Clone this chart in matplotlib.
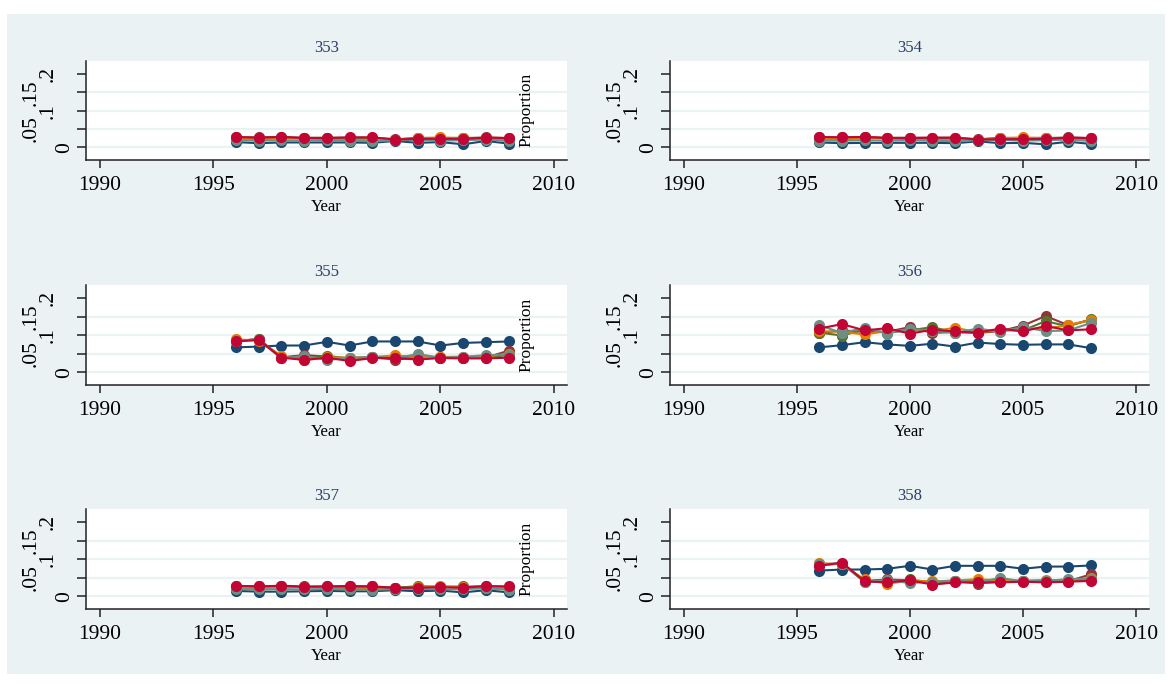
import matplotlib
matplotlib.use("Agg")
import matplotlib.pyplot as plt
from matplotlib.patches import Rectangle

# ---- data -------------------------------------------------------------
years = list(range(1996, 2009))
panel_ids = ["353", "354", "355", "356", "357", "358"]
series_colors = ["#1a476f", "#90353b", "#55752f", "#e37e00", "#6e8e84", "#c10534"]

x_ticks = [1990, 1995, 2000, 2005, 2010]
x_tick_labels = ["1990", "1995", "2000", "2005", "2010"]
y_ticks = [0, 0.05, 0.1, 0.15, 0.2]
y_tick_labels = ["0", ".05", ".1", ".15", ".2"]
y_grid = [0, 0.05, 0.1, 0.15]

# one list per series: navy, maroon, green, orange, teal, cranberry
p353 = [
    [0.014, 0.011, 0.013, 0.013, 0.013, 0.013, 0.012, 0.017, 0.012, 0.014, 0.008, 0.017, 0.010],
    [0.027, 0.027, 0.028, 0.026, 0.026, 0.026, 0.026, 0.022, 0.024, 0.024, 0.024, 0.027, 0.025],
    [0.024, 0.025, 0.026, 0.024, 0.025, 0.023, 0.022, 0.021, 0.026, 0.025, 0.026, 0.025, 0.023],
    [0.023, 0.022, 0.024, 0.025, 0.022, 0.020, 0.021, 0.020, 0.024, 0.027, 0.024, 0.023, 0.022],
    [0.019, 0.018, 0.019, 0.018, 0.019, 0.018, 0.016, 0.019, 0.020, 0.018, 0.019, 0.021, 0.017],
    [0.028, 0.026, 0.028, 0.025, 0.025, 0.027, 0.027, 0.021, 0.023, 0.023, 0.023, 0.026, 0.025],
]
p354 = [
    [0.013, 0.011, 0.012, 0.012, 0.012, 0.012, 0.011, 0.016, 0.011, 0.012, 0.008, 0.015, 0.009],
    [0.027, 0.027, 0.028, 0.026, 0.026, 0.026, 0.026, 0.022, 0.024, 0.025, 0.024, 0.027, 0.025],
    [0.024, 0.025, 0.027, 0.024, 0.025, 0.023, 0.022, 0.021, 0.026, 0.025, 0.026, 0.025, 0.023],
    [0.023, 0.022, 0.024, 0.025, 0.022, 0.019, 0.021, 0.020, 0.024, 0.027, 0.024, 0.023, 0.022],
    [0.018, 0.018, 0.019, 0.018, 0.019, 0.018, 0.016, 0.019, 0.020, 0.018, 0.019, 0.021, 0.017],
    [0.028, 0.027, 0.028, 0.025, 0.025, 0.026, 0.026, 0.021, 0.022, 0.022, 0.023, 0.026, 0.025],
]
p355 = [
    [0.067, 0.069, 0.072, 0.072, 0.082, 0.072, 0.083, 0.083, 0.083, 0.072, 0.079, 0.081, 0.083],
    [0.083, 0.090, 0.040, 0.046, 0.042, 0.036, 0.040, 0.034, 0.039, 0.040, 0.039, 0.039, 0.058],
    [0.085, 0.089, 0.038, 0.039, 0.044, 0.037, 0.041, 0.039, 0.043, 0.039, 0.039, 0.040, 0.046],
    [0.089, 0.085, 0.044, 0.032, 0.040, 0.039, 0.041, 0.045, 0.041, 0.041, 0.042, 0.042, 0.050],
    [0.085, 0.088, 0.037, 0.044, 0.033, 0.038, 0.042, 0.037, 0.049, 0.039, 0.041, 0.046, 0.047],
    [0.083, 0.087, 0.039, 0.033, 0.039, 0.030, 0.038, 0.038, 0.034, 0.038, 0.037, 0.037, 0.039],
]
p356 = [
    [0.067, 0.073, 0.081, 0.075, 0.071, 0.077, 0.069, 0.080, 0.076, 0.074, 0.075, 0.075, 0.065],
    [0.106, 0.113, 0.109, 0.109, 0.122, 0.106, 0.109, 0.106, 0.111, 0.126, 0.152, 0.127, 0.141],
    [0.107, 0.099, 0.115, 0.107, 0.113, 0.122, 0.107, 0.109, 0.113, 0.113, 0.138, 0.124, 0.143],
    [0.111, 0.109, 0.102, 0.111, 0.113, 0.111, 0.120, 0.108, 0.113, 0.118, 0.118, 0.127, 0.141],
    [0.127, 0.106, 0.120, 0.104, 0.118, 0.111, 0.106, 0.118, 0.109, 0.122, 0.111, 0.113, 0.133],
    [0.118, 0.130, 0.113, 0.119, 0.104, 0.115, 0.110, 0.107, 0.118, 0.110, 0.125, 0.113, 0.116],
]
p357 = [
    [0.014, 0.012, 0.012, 0.013, 0.014, 0.013, 0.013, 0.016, 0.013, 0.015, 0.010, 0.016, 0.010],
    [0.027, 0.026, 0.028, 0.026, 0.026, 0.027, 0.026, 0.023, 0.024, 0.025, 0.024, 0.027, 0.025],
    [0.024, 0.025, 0.026, 0.024, 0.025, 0.023, 0.022, 0.022, 0.027, 0.025, 0.026, 0.025, 0.023],
    [0.023, 0.022, 0.024, 0.025, 0.022, 0.020, 0.021, 0.020, 0.024, 0.027, 0.024, 0.023, 0.022],
    [0.019, 0.018, 0.019, 0.018, 0.019, 0.018, 0.017, 0.019, 0.020, 0.018, 0.019, 0.021, 0.017],
    [0.028, 0.026, 0.028, 0.025, 0.026, 0.027, 0.026, 0.022, 0.023, 0.024, 0.023, 0.027, 0.026],
]
p358 = [
    [0.069, 0.072, 0.072, 0.074, 0.082, 0.072, 0.082, 0.082, 0.082, 0.074, 0.080, 0.080, 0.083],
    [0.084, 0.088, 0.041, 0.045, 0.043, 0.035, 0.041, 0.034, 0.040, 0.041, 0.040, 0.040, 0.059],
    [0.086, 0.088, 0.039, 0.040, 0.045, 0.037, 0.042, 0.040, 0.044, 0.040, 0.040, 0.041, 0.045],
    [0.089, 0.086, 0.045, 0.034, 0.041, 0.040, 0.042, 0.046, 0.042, 0.042, 0.044, 0.042, 0.050],
    [0.087, 0.088, 0.038, 0.044, 0.035, 0.039, 0.042, 0.038, 0.049, 0.040, 0.041, 0.046, 0.047],
    [0.082, 0.091, 0.040, 0.037, 0.043, 0.031, 0.037, 0.037, 0.037, 0.039, 0.037, 0.039, 0.041],
]
panels = [p353, p354, p355, p356, p357, p358]

# ---- styling -----------------------------------------------------------
plt.rcParams["font.family"] = ["Liberation Serif", "DejaVu Serif"]
BG = "#eaf2f3"
W, H = 1171, 686
fig = plt.figure(figsize=(W / 100, H / 100), dpi=100, facecolor="white")
fig.patches.append(Rectangle((7 / W, 1 - 674 / H), (1165 - 7) / W, (674 - 14) / H,
                             transform=fig.transFigure, facecolor=BG,
                             edgecolor="none", zorder=-10))

col_x = [(86, 567), (670, 1149)]
row_y = [(61, 160), (285, 385), (509, 609)]

for i, (pid, data) in enumerate(zip(panel_ids, panels)):
    r, c = divmod(i, 2)
    x0, x1 = col_x[c]
    y0, y1 = row_y[r]
    ax = fig.add_axes([x0 / W, 1 - y1 / H, (x1 - x0) / W, (y1 - y0) / H])
    ax.set_zorder(1)
    ax.set_facecolor("white")
    ax.set_xlim(1989.4, 2010.57)
    ax.set_ylim(-0.035, 0.236)
    for s in ("top", "right"):
        ax.spines[s].set_visible(False)
    for s in ("left", "bottom"):
        ax.spines[s].set_linewidth(1.1)
        ax.spines[s].set_color("#222222")

    for g in y_grid:
        ax.axhline(g, color=BG, lw=1.6, zorder=1)

    for vals, col in zip(data, series_colors):
        ax.plot(years, vals, color=col, lw=1.5, marker="o", ms=8,
                markeredgewidth=0, zorder=3)

    ax.set_xticks(x_ticks)
    ax.set_xticklabels(x_tick_labels, fontsize=15.5)
    ax.tick_params(axis="x", length=5.5, width=1.1, pad=6, colors="#222222",
                   labelcolor="black")
    ax.set_yticks(y_ticks)
    ax.set_yticklabels([""] * len(y_ticks))
    ax.tick_params(axis="y", length=6.5, width=1.1, colors="#222222")
    ytr = ax.get_yaxis_transform()
    for v, lab in zip(y_ticks, y_tick_labels):
        off = 11.5 + 17 * (len(lab) - 1)
        ax.annotate(lab, xy=(0, v), xycoords=ytr, xytext=(-off, 0),
                    textcoords="offset pixels", rotation=90,
                    ha="right", va="center", fontsize=15.5, annotation_clip=False)

    ax.annotate(pid, xy=(0.5, 1), xycoords="axes fraction", xytext=(0, 9.5),
                textcoords="offset points", ha="center", va="center",
                fontsize=12, color="#2c3e66")
    ax.annotate("Year", xy=(0.5, 0), xycoords="axes fraction",
                xytext=(0, -33.5), textcoords="offset points",
                ha="center", va="center", fontsize=12)
    if c == 0:
        ax.text(0.915, 0, "Proportion", transform=ytr, rotation=90,
                ha="center", va="bottom", fontsize=12.5, zorder=4)

fig.savefig("out.png", dpi=100, facecolor="white")
